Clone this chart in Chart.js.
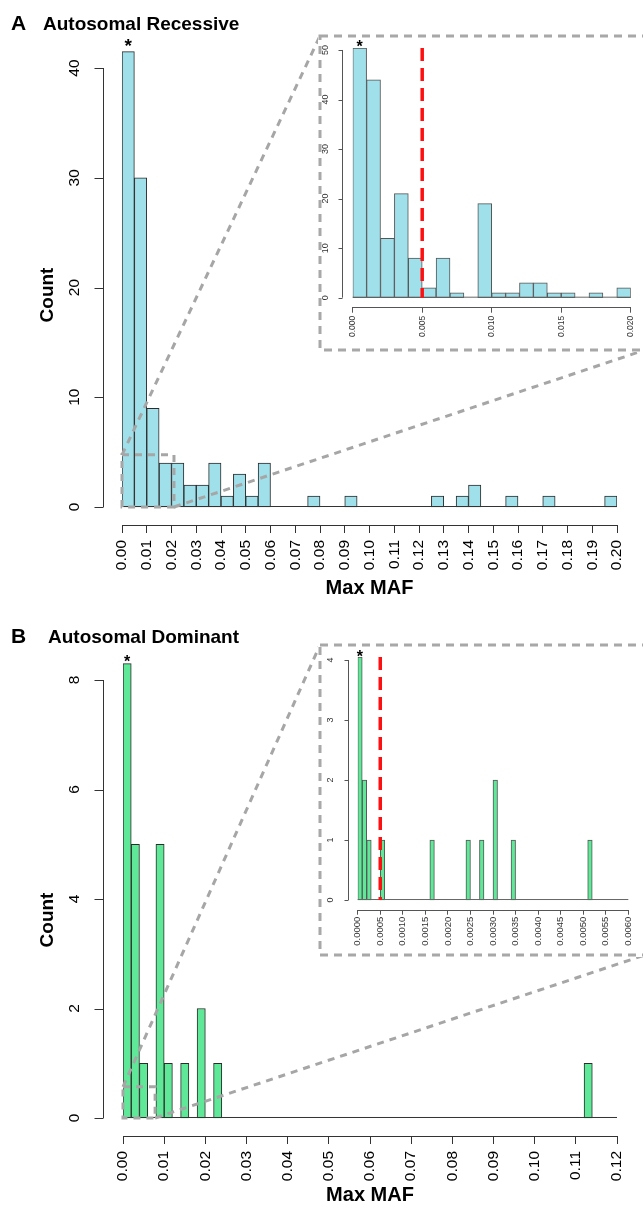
<!DOCTYPE html>
<html>
<head>
<meta charset="utf-8">
<script src="https://cdn.jsdelivr.net/npm/chart.js@4.4.1/dist/chart.umd.min.js"></script>
<style>
  body { margin: 0; background: #fff; }
  #wrap { position: relative; width: 643px; height: 1212px; overflow: hidden; font-family: "Liberation Sans", Arial, Helvetica, sans-serif; }
  canvas { position: absolute; }
  .lab { position: absolute; font-weight: bold; color: #000; white-space: nowrap; line-height: 1; }
</style>
</head>
<body>
<div id="wrap">
  <canvas id="mainA" width="643" height="600" style="left:0;top:0"></canvas>
  <canvas id="mainB" width="643" height="612" style="left:0;top:600px"></canvas>
  <canvas id="insetA" width="330" height="318" style="left:318px;top:34px"></canvas>
  <canvas id="insetB" width="330" height="314" style="left:318px;top:643px"></canvas>
  <div class="lab" style="left:11px;top:12px;font-size:21px">A</div>
  <div class="lab" style="left:43px;top:14px;font-size:19px">Autosomal Recessive</div>
  <div class="lab" style="left:11px;top:625px;font-size:21px">B</div>
  <div class="lab" style="left:48px;top:627px;font-size:19px">Autosomal Dominant</div>
</div>
<script>
// ---- data (first bin of every histogram is clipped and marked with *) ----

// A: autosomal recessive, full range, bins of 0.005
const recMainCounts = [41.5, 30, 9, 4, 4, 2, 2, 4, 1, 3, 1, 4, 0, 0, 0, 1, 0, 0, 1, 0,
                       0, 0, 0, 0, 0, 1, 0, 1, 2, 0, 0, 1, 0, 0, 1, 0, 0, 0, 0, 1];
const recMainBinWidth = 0.005;
const recMainXTicks = [0, 0.01, 0.02, 0.03, 0.04, 0.05, 0.06, 0.07, 0.08, 0.09, 0.10,
                       0.11, 0.12, 0.13, 0.14, 0.15, 0.16, 0.17, 0.18, 0.19, 0.20];
const recMainYTicks = [0, 10, 20, 30, 40];
const recZoomBox = [0, 0.021, 0, 4.75]; // x0, x1, y0, y1 of the zoomed region

// A inset: 0 - 0.02, bins of 0.001
const recInsetCounts = [50.4, 44, 12, 21, 8, 2, 8, 1, 0, 19, 1, 1, 3, 3, 1, 1, 0, 1, 0, 2];
const recInsetBinWidth = 0.001;
const recInsetXTicks = [0, 0.005, 0.010, 0.015, 0.020];
const recInsetYTicks = [0, 10, 20, 30, 40, 50];
const recCutoff = 0.005;

// B: autosomal dominant, full range, bins of 0.002
const domMainCounts = [8.3, 5, 1, 0, 5, 1, 0, 1, 0, 2, 0, 1, 0, 0, 0, 0, 0, 0, 0, 0,
                       0, 0, 0, 0, 0, 0, 0, 0, 0, 0, 0, 0, 0, 0, 0, 0, 0, 0, 0, 0,
                       0, 0, 0, 0, 0, 0, 0, 0, 0, 0, 0, 0, 0, 0, 0, 0, 1, 0, 0, 0];
const domMainBinWidth = 0.002;
const domMainXTicks = [0, 0.01, 0.02, 0.03, 0.04, 0.05, 0.06, 0.07, 0.08, 0.09, 0.10, 0.11, 0.12];
const domMainYTicks = [0, 2, 4, 6, 8];
const domZoomBox = [0, 0.0078, 0, 0.57];

// B inset: 0 - 0.006, bins of 0.0001
const domInsetCounts = [4.05, 2, 1, 0, 0, 1, 0, 0, 0, 0, 0, 0, 0, 0, 0, 0, 1, 0, 0, 0,
                        0, 0, 0, 0, 1, 0, 0, 1, 0, 0, 2, 0, 0, 0, 1, 0, 0, 0, 0, 0,
                        0, 0, 0, 0, 0, 0, 0, 0, 0, 0, 0, 1, 0, 0, 0, 0, 0, 0, 0, 0];
const domInsetBinWidth = 0.0001;
const domInsetXTicks = [0, 0.0005, 0.0010, 0.0015, 0.0020, 0.0025, 0.0030,
                        0.0035, 0.0040, 0.0045, 0.0050, 0.0055, 0.0060];
const domInsetYTicks = [0, 1, 2, 3, 4];
const domCutoff = 0.0005;

// ---- drawing ----
const FONT = '"Liberation Sans", Arial, Helvetica, sans-serif';
Chart.defaults.font.family = FONT;
Chart.defaults.color = '#000';

// R-style extras: offset y axis, rotated labels, star, cutoff line, zoom box + connector lines
function rDeco(id, o) {
  return {
    id: id,
    beforeDraw(chart) {
      const ctx = chart.ctx;
      ctx.save();
      ctx.fillStyle = '#fff';
      ctx.fillRect(0, 0, chart.width, chart.height);
      if (o.frame) {
        ctx.setLineDash([8, 6]);
        ctx.lineWidth = 3;
        ctx.strokeStyle = '#a8a8a8';
        ctx.strokeRect(o.frame[0], o.frame[1], o.frame[2], o.frame[3]);
      }
      ctx.restore();
    },
    afterDatasetsDraw(chart) {
      const ctx = chart.ctx, xs = chart.scales.x, ys = chart.scales.y, ca = chart.chartArea;
      const y0 = ys.getPixelForValue(0);
      ctx.save();

      // baseline of the empty bins
      ctx.strokeStyle = o.edge;
      ctx.lineWidth = 1;
      ctx.beginPath();
      ctx.moveTo(ca.left, y0 - 0.5);
      ctx.lineTo(ca.right, y0 - 0.5);
      ctx.stroke();

      // y axis
      const ax = Math.round(ca.left - o.yGap) + 0.5;
      const t = o.yTicks;
      ctx.strokeStyle = o.axisColor;
      ctx.beginPath();
      ctx.moveTo(ax, ys.getPixelForValue(t[0]));
      ctx.lineTo(ax, ys.getPixelForValue(t[t.length - 1]));
      t.forEach(v => {
        const p = Math.round(ys.getPixelForValue(v)) + 0.5;
        ctx.moveTo(ax, p);
        ctx.lineTo(ax - o.tickLen, p);
      });
      ctx.stroke();
      ctx.fillStyle = o.labelColor;
      ctx.font = o.tickFont;
      ctx.textAlign = 'center';
      ctx.textBaseline = 'middle';
      t.forEach(v => {
        ctx.save();
        ctx.translate(o.labelX, ys.getPixelForValue(v));
        ctx.rotate(-Math.PI / 2);
        ctx.fillText(String(v), 0, 0);
        ctx.restore();
      });
      if (o.yTitle) {
        ctx.save();
        ctx.fillStyle = '#000';
        ctx.font = 'bold 19px ' + FONT;
        ctx.translate(o.yTitleX, o.yTitleY);
        ctx.rotate(-Math.PI / 2);
        ctx.fillText(o.yTitle, 0, 0);
        ctx.restore();
      }

      // star over the clipped first bar
      const bar = chart.getDatasetMeta(0).data[0];
      ctx.fillStyle = '#000';
      ctx.font = 'bold ' + o.starSize + 'px ' + FONT;
      ctx.textBaseline = 'alphabetic';
      ctx.fillText('*', bar.x, bar.y - o.starDy + 0.575 * o.starSize);

      // threshold line
      if (o.cutoff != null) {
        const cx = xs.getPixelForValue(o.cutoff);
        ctx.strokeStyle = '#ff1010';
        ctx.lineWidth = 3.5;
        ctx.setLineDash([13, 7]);
        ctx.beginPath();
        ctx.moveTo(cx, ca.top);
        ctx.lineTo(cx, y0);
        ctx.stroke();
      }

      // zoomed region and lines to the inset
      if (o.zoom) {
        const b = o.zoom.box;
        const l = xs.getPixelForValue(b[0]), r = xs.getPixelForValue(b[1]);
        const bt = ys.getPixelForValue(b[2]), tp = ys.getPixelForValue(b[3]);
        ctx.strokeStyle = '#a6a6a6';
        ctx.lineWidth = 3;
        ctx.setLineDash([7, 6]);
        ctx.strokeRect(l, tp, r - l, bt - tp);
        ctx.beginPath();
        ctx.moveTo(l, tp);
        ctx.lineTo(o.zoom.to[0][0], o.zoom.to[0][1]);
        ctx.moveTo(r, bt);
        ctx.lineTo(o.zoom.to[1][0], o.zoom.to[1][1]);
        ctx.stroke();
      }
      ctx.restore();
    }
  };
}

function histogram(canvasId, counts, binWidth, xTicks, o) {
  const points = counts.map((c, i) => ({x: (i + 0.5) * binWidth, y: c}));
  return new Chart(document.getElementById(canvasId), {
    type: 'bar',
    data: {
      datasets: [{
        data: points,
        backgroundColor: o.fill,
        borderColor: o.edge,
        borderWidth: 1,
        borderSkipped: false,
        categoryPercentage: 1,
        barPercentage: 1
      }]
    },
    options: {
      responsive: false,
      animation: false,
      layout: {padding: o.padding},
      plugins: {legend: {display: false}, tooltip: {enabled: false}},
      scales: {
        x: {
          type: 'linear',
          min: 0,
          max: o.xMax,
          bounds: 'data',
          offset: false,
          afterBuildTicks: s => { s.ticks = xTicks.map(v => ({value: v})); },
          afterFit: s => { s.height = o.axisH; },
          ticks: {
            autoSkip: false,
            minRotation: 90,
            maxRotation: 90,
            padding: o.tickPad,
            font: {size: o.xFont},
            color: o.deco.labelColor,
            callback: v => v.toFixed(o.dec)
          },
          grid: {display: true, drawOnChartArea: false, drawTicks: true, tickLength: o.tickLen, color: o.deco.axisColor, offset: false},
          border: {display: true, color: o.deco.axisColor},
          title: o.title
            ? {display: true, text: o.title, color: '#000', font: {size: 20, weight: 'bold'}, padding: {top: 0, bottom: o.titlePad}}
            : {display: false}
        },
        y: {display: false, min: o.yMin, max: o.yMax, bounds: 'data'}
      }
    },
    plugins: [rDeco(canvasId + 'Deco', o.deco)]
  });
}

const blue = '#a0e0ea';
const green = '#5ee897';

histogram('mainA', recMainCounts, recMainBinWidth, recMainXTicks, {
  fill: blue, edge: '#2b2b2b', xMax: 0.2, dec: 2,
  padding: {left: 122, right: 26, top: 51, bottom: 0},
  yMin: -1.64, yMax: 41.55, axisH: 75, tickLen: 8, tickPad: 7, xFont: 15.5,
  title: 'Max MAF', titlePad: 0,
  deco: {
    edge: '#333', yTicks: recMainYTicks, yGap: 19.3, tickLen: 9, labelX: 75,
    tickFont: '15.5px ' + FONT, labelColor: '#000', axisColor: '#333',
    yTitle: 'Count', yTitleX: 48, yTitleY: 295, starSize: 19, starDy: 10,
    zoom: {box: recZoomBox, to: [[320, 36], [645, 350]]}
  }
});

histogram('mainB', domMainCounts, domMainBinWidth, domMainXTicks, {
  fill: green, edge: '#2b2b2b', xMax: 0.12, dec: 2,
  padding: {left: 123, right: 26, top: 62, bottom: 0},
  yMin: -0.3288, yMax: 8.329, axisH: 76, tickLen: 8, tickPad: 7, xFont: 15.5,
  title: 'Max MAF', titlePad: 5,
  deco: {
    edge: '#333', yTicks: domMainYTicks, yGap: 20.3, tickLen: 9, labelX: 75,
    tickFont: '15.5px ' + FONT, labelColor: '#000', axisColor: '#333',
    yTitle: 'Count', yTitleX: 48, yTitleY: 320, starSize: 16, starDy: 6,
    zoom: {box: domZoomBox, to: [[320, 45], [645, 355]]}
  }
});

histogram('insetA', recInsetCounts, recInsetBinWidth, recInsetXTicks, {
  fill: blue, edge: '#555', xMax: 0.02, dec: 3,
  padding: {left: 34.7, right: 17.3, top: 14, bottom: 6.3},
  yMin: -2.02, yMax: 50.4, axisH: 38, tickLen: 5, tickPad: 3, xFont: 8.5,
  deco: {
    edge: '#666', yTicks: recInsetYTicks, yGap: 11, tickLen: 4, labelX: 8,
    tickFont: '9px ' + FONT, labelColor: '#333', axisColor: '#555',
    starSize: 16, starDy: 5.6, cutoff: recCutoff, frame: [2, 2, 325, 314]
  }
});

histogram('insetB', domInsetCounts, domInsetBinWidth, domInsetXTicks, {
  fill: green, edge: '#555', xMax: 0.006, dec: 4,
  padding: {left: 39.7, right: 19.7, top: 14, bottom: 4.3},
  yMin: -0.178, yMax: 4.05, axisH: 42, tickLen: 4, tickPad: 2, xFont: 9.5,
  deco: {
    edge: '#666', yTicks: domInsetYTicks, yGap: 10, tickLen: 4, labelX: 13,
    tickFont: '9px ' + FONT, labelColor: '#333', axisColor: '#555',
    starSize: 16, starDy: 4.6, cutoff: domCutoff, frame: [2, 2, 325, 310]
  }
});
</script>
</body>
</html>
